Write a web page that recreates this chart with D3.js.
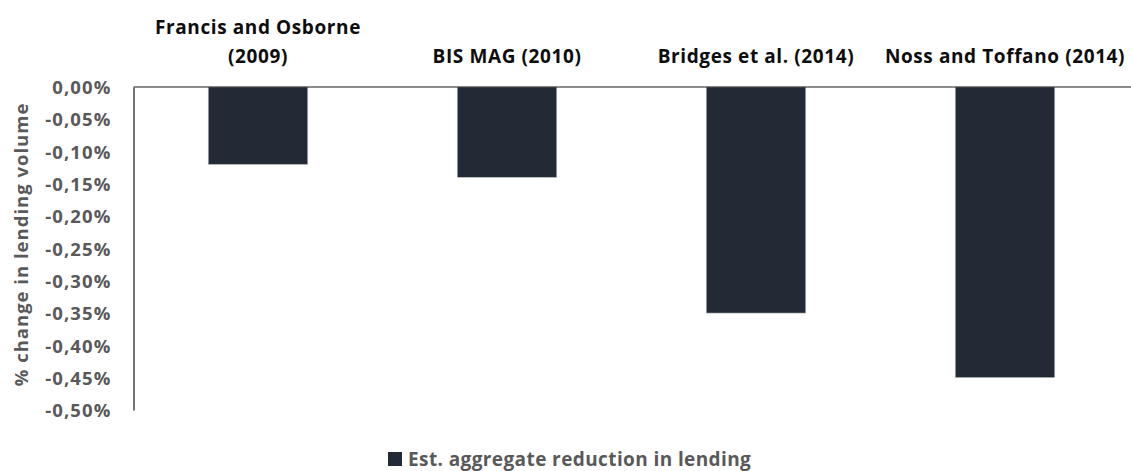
<!DOCTYPE html>
<html>
<head>
<meta charset="utf-8">
<script src="https://cdn.jsdelivr.net/npm/d3@7"></script>
<style>
  html, body { margin: 0; padding: 0; background: #ffffff; }
  svg { display: block; }
  text { font-family: "Open Sans", Lato, sans-serif; font-weight: 700; }
</style>
</head>
<body>
<svg id="chart" width="1131" height="471"></svg>
<script>
// Studies and their estimated change in lending volume (%)
const studyLines = [
  ["Francis and Osborne", "(2009)"],
  ["BIS MAG (2010)"],
  ["Bridges et al. (2014)"],
  ["Noss and Toffano (2014)"]
];
const studyKeys = ["Francis and Osborne (2009)", "BIS MAG (2010)", "Bridges et al. (2014)", "Noss and Toffano (2014)"];
const lendingChange = [-0.12, -0.14, -0.35, -0.45];
const yTicks = [0, -0.05, -0.10, -0.15, -0.20, -0.25, -0.30, -0.35, -0.40, -0.45, -0.50];
const seriesName = "Est. aggregate reduction in lending";
const yTitle = "% change in lending volume";

const svg = d3.select("#chart");
const barColor = "#242a35";
const tickGray = "#595959";

const x = d3.scaleBand()
  .domain(studyKeys)
  .range([133.5, 1129.5])
  .paddingInner(0.6)
  .paddingOuter(0.3);

const y = d3.scaleLinear()
  .domain([0, -0.5])
  .range([87, 410]);

// bars hang down from the zero line
svg.append("g")
  .selectAll("rect")
  .data(lendingChange)
  .join("rect")
  .attr("x", (d, i) => x(studyKeys[i]))
  .attr("width", x.bandwidth())
  .attr("y", y(0))
  .attr("height", d => y(d) - y(0))
  .attr("fill", barColor)
  .attr("stroke", "#c9cdd3")
  .attr("stroke-width", 0.6);

// y axis: tick labels in European decimal format, no tick marks
const fmt = v => (v < 0 ? "-" : "") + Math.abs(v).toFixed(2).replace(".", ",") + "%";
const yAxis = d3.axisLeft(y).tickValues(yTicks).tickFormat(fmt).tickSize(0).tickPadding(22);
const yG = svg.append("g").attr("transform", "translate(133.5,0)").call(yAxis);
yG.select(".domain").attr("stroke", "#1a1a1a").attr("stroke-width", 1.2);
yG.selectAll("text")
  .attr("fill", tickGray)
  .attr("dy", "0.36em")
  .style("font-size", "18.5px")
  .style("letter-spacing", "1.1px")
  .style("font-family", "'Open Sans', sans-serif")
  .style("font-weight", "700");

// zero line along the top
svg.append("line")
  .attr("x1", 133.5).attr("x2", 1131)
  .attr("y1", y(0)).attr("y2", y(0))
  .attr("stroke", "#1a1a1a").attr("stroke-width", 1.2);

// category labels above the plot
const catG = svg.append("g");
studyLines.forEach((lines, i) => {
  const cx = x(studyKeys[i]) + x.bandwidth() / 2;
  const t = catG.append("text")
    .attr("text-anchor", "middle")
    .attr("fill", "#0d0d0d")
    .style("font-size", "19px")
    .style("letter-spacing", "0.6px");
  const n = lines.length;
  lines.forEach((ln, j) => {
    t.append("tspan")
      .attr("x", cx)
      .attr("y", 62.5 - (n - 1 - j) * 29)
      .text(ln);
  });
});

// y axis title
svg.append("text")
  .attr("transform", `translate(28,${(y(0) + y(-0.5)) / 2 - 4}) rotate(-90)`)
  .attr("text-anchor", "middle")
  .attr("fill", tickGray)
  .style("font-size", "18.5px")
  .style("letter-spacing", "1px")
  .text(yTitle);

// legend
const lg = svg.append("g").attr("transform", "translate(388,452)");
lg.append("rect").attr("width", 14).attr("height", 14).attr("fill", barColor);
lg.append("text")
  .attr("x", 20).attr("y", 14)
  .attr("fill", tickGray)
  .style("font-size", "19px")
  .style("letter-spacing", "0.4px")
  .text(seriesName);
</script>
</body>
</html>
